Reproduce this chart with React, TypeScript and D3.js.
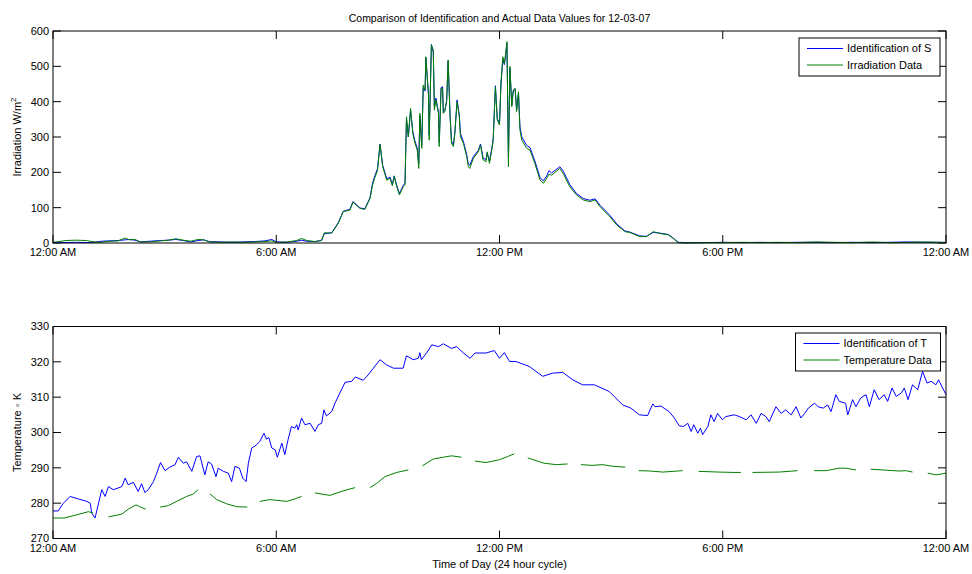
import React from "react";
import * as d3 from "d3";

// ---- Irradiance panel (W/m^2), sampled in hours after midnight ----
const irrHours = [
  0.0, 0.15, 0.35, 0.6, 0.9, 1.1, 1.3, 1.5, 1.75, 1.94, 2.05, 2.2, 2.35, 2.6, 2.9, 3.1, 3.3, 3.5, 3.7, 3.9,
  4.05, 4.2, 4.5, 4.8, 5.1, 5.4, 5.7, 5.88, 6.0, 6.3, 6.55, 6.68, 6.82, 7.04, 7.22, 7.29, 7.49, 7.67, 7.8, 7.98,
  8.06, 8.12, 8.25, 8.38, 8.52, 8.59, 8.65, 8.72, 8.79, 8.86, 8.97, 9.06, 9.12, 9.17, 9.24, 9.31, 9.41, 9.46, 9.5, 9.55,
  9.61, 9.67, 9.73, 9.79, 9.83, 9.86, 9.91, 9.95, 10.0, 10.02, 10.09, 10.11, 10.17, 10.22, 10.25, 10.29, 10.36, 10.38, 10.43, 10.47,
  10.49, 10.53, 10.58, 10.62, 10.67, 10.71, 10.76, 10.8, 10.86, 10.92, 10.95, 11.03, 11.12, 11.16, 11.2, 11.3, 11.43, 11.49, 11.56, 11.64,
  11.67, 11.73, 11.8, 11.83, 11.89, 11.94, 12.0, 12.04, 12.09, 12.13, 12.16, 12.2, 12.24, 12.28, 12.33, 12.37, 12.42, 12.46, 12.51, 12.55,
  12.6, 12.73, 12.82, 12.95, 13.09, 13.18, 13.27, 13.33, 13.4, 13.62, 13.71, 13.89, 14.07, 14.25, 14.43, 14.57, 14.7, 14.97, 15.15, 15.37,
  15.5, 15.77, 15.95, 16.13, 16.31, 16.54, 16.67, 16.8, 17.0, 17.5, 18.0, 18.5, 19.0, 19.5, 20.0, 20.5, 21.0, 21.5, 22.0, 22.5,
  23.0, 23.5, 24.0,
];

const irradiationData = [
  2, 4, 7, 8, 7, 3, 2, 5, 6, 14, 9, 10, 3, 3, 6, 8, 12, 8, 5, 10,
  9, 3, 2, 3, 2, 3, 4, 6, 2, 3, 7, 13, 7, 4, 7, 29, 28, 56, 89, 93,
  115, 110, 98, 95, 126, 165, 185, 205, 279, 216, 178, 183, 162, 188, 159, 136, 159, 165, 357, 301,
  381, 310, 282, 263, 211, 367, 268, 447, 433, 527, 424, 291, 560, 546, 376, 405, 367, 273, 438, 438,
  367, 372, 405, 518, 362, 282, 273, 310, 400, 357, 301, 282, 244, 216, 211, 240, 258, 277, 235, 230,
  258, 225, 268, 291, 442, 348, 334, 456, 527, 508, 532, 570, 216, 500, 386, 433, 438, 372, 428, 320,
  291, 268, 263, 225, 178, 169, 183, 195, 192, 211, 197, 159, 136, 122, 117, 122, 103, 74, 51, 32,
  30, 18, 18, 32, 27, 23, 13, 1, 0, 1, 1, 2, 1, 2, 1, 3, 2, 1, 3, 1,
  2, 3, 1,
];

const identificationS = [
  1, 2, 1, 2, 1, 2, 5, 6, 7, 9, 10, 8, 3, 5, 7, 8, 10, 7, 3, 7,
  9, 4, 3, 2, 3, 4, 6, 10, 3, 2, 5, 8, 5, 4, 8, 26, 29, 58, 90, 95,
  117, 112, 99, 97, 128, 170, 190, 210, 280, 220, 182, 186, 166, 190, 162, 140, 162, 170, 350, 300,
  375, 315, 288, 268, 225, 360, 275, 440, 430, 525, 420, 305, 562, 540, 385, 410, 370, 285, 440, 442,
  370, 375, 400, 515, 365, 288, 278, 312, 405, 362, 310, 287, 250, 224, 220, 245, 262, 280, 240, 236,
  255, 232, 272, 295, 445, 352, 340, 450, 520, 505, 525, 565, 240, 495, 390, 430, 435, 378, 425, 328,
  300, 276, 270, 232, 185, 176, 190, 205, 198, 216, 204, 165, 140, 126, 121, 125, 107, 78, 54, 34,
  31, 20, 19, 30, 28, 24, 14, 2, 1, 1, 2, 1, 2, 1, 2, 2, 1, 2, 1, 2,
  3, 2, 2,
];

// ---- Temperature panel (K): [hour, value]; null marks missing samples ----
const identificationT: [number, number][] = [
  [0, 277.8], [0.14, 277.8], [0.28, 280.0], [0.46, 281.9], [0.68, 281.2], [0.91, 280.5], [1.0, 280.0], [1.04, 277.2],
  [1.13, 275.8], [1.22, 279.8], [1.31, 283.8], [1.4, 281.9], [1.49, 284.7], [1.62, 283.8], [1.75, 284.3], [1.85, 284.7],
  [1.94, 287.1], [2.02, 285.2], [2.16, 285.9], [2.29, 283.3], [2.38, 285.5], [2.47, 283.0], [2.56, 283.8], [2.7, 286.1],
  [2.79, 288.5], [2.89, 291.5], [3.01, 289.2], [3.14, 290.2], [3.28, 290.9], [3.37, 293.0], [3.5, 291.3], [3.59, 291.7],
  [3.73, 289.0], [3.86, 293.2], [3.95, 293.4], [4.08, 288.0], [4.17, 291.7], [4.26, 291.1], [4.38, 287.5], [4.44, 289.9],
  [4.58, 289.0], [4.71, 288.5], [4.8, 286.1], [4.89, 290.4], [5.01, 289.9], [5.1, 287.1], [5.19, 286.1], [5.25, 291.3],
  [5.34, 295.6], [5.47, 296.5], [5.56, 297.5], [5.67, 299.8], [5.74, 298.1], [5.8, 298.6], [5.88, 295.6], [5.97, 295.1],
  [6.03, 293.0], [6.15, 297.0], [6.23, 293.7], [6.32, 298.1], [6.41, 301.7], [6.5, 301.2], [6.55, 302.2], [6.59, 300.7],
  [6.68, 304.1], [6.77, 302.2], [6.91, 302.6], [7.04, 300.3], [7.13, 302.2], [7.22, 302.6], [7.28, 306.4], [7.35, 304.7],
  [7.49, 305.9], [7.58, 308.3], [7.71, 311.2], [7.85, 314.2], [8.03, 314.5], [8.12, 315.7], [8.34, 314.8], [8.47, 316.3],
  [8.61, 318.2], [8.79, 320.6], [8.97, 319.1], [9.15, 318.2], [9.41, 318.2], [9.5, 321.7], [9.68, 320.6], [9.82, 321.0],
  [9.86, 322.6], [9.9, 320.6], [10.04, 322.5], [10.18, 324.8], [10.36, 324.3], [10.49, 325.1], [10.71, 323.8], [10.85, 324.3],
  [11.03, 322.5], [11.21, 321.0], [11.34, 322.5], [11.64, 322.5], [11.86, 323.2], [12.0, 321.0], [12.13, 322.6], [12.27, 320.1],
  [12.44, 320.1], [12.8, 318.7], [13.16, 315.9], [13.43, 316.8], [13.7, 317.0], [13.97, 314.9], [14.23, 313.5], [14.55, 313.5],
  [14.95, 311.6], [15.31, 307.8], [15.53, 306.9], [15.76, 305.0], [15.98, 304.8], [16.12, 308.1], [16.18, 307.3], [16.34, 307.5],
  [16.56, 305.9], [16.7, 304.1], [16.83, 301.9], [16.94, 301.7], [17.06, 302.6], [17.15, 300.3], [17.22, 302.2], [17.33, 299.8],
  [17.4, 301.2], [17.46, 299.4], [17.6, 301.7], [17.68, 305.0], [17.77, 303.1], [17.86, 305.4], [17.99, 303.6], [18.08, 304.5],
  [18.31, 305.0], [18.45, 304.5], [18.63, 303.6], [18.76, 305.0], [18.9, 302.6], [19.03, 305.4], [19.16, 304.5], [19.25, 303.1],
  [19.43, 307.3], [19.57, 305.4], [19.69, 306.4], [19.84, 305.0], [19.97, 307.3], [20.1, 304.1], [20.2, 305.4], [20.3, 306.9],
  [20.47, 308.3], [20.56, 307.3], [20.7, 306.9], [20.82, 307.8], [20.91, 305.9], [21.04, 310.7], [21.13, 308.8], [21.3, 308.3],
  [21.36, 305.0], [21.49, 309.3], [21.58, 307.3], [21.71, 309.8], [21.85, 310.7], [21.94, 307.3], [22.07, 312.1], [22.2, 309.3],
  [22.34, 310.7], [22.43, 308.8], [22.55, 312.6], [22.66, 310.2], [22.8, 311.2], [22.88, 312.6], [22.98, 309.3], [23.1, 313.5],
  [23.24, 312.1], [23.37, 317.3], [23.49, 314.0], [23.6, 314.5], [23.73, 313.5], [23.8, 314.9], [24, 310.7],
];

const temperatureData: ([number, number] | null)[] = [
  [0, 275.8], [0.3, 275.8], [0.64, 276.7], [0.95, 277.6], [1.08, 277.2], null,
  [1.49, 276.1], [1.85, 276.9], [2.02, 278.3], [2.23, 279.5], [2.33, 279.0], [2.49, 278.3], null,
  [2.88, 278.9], [3.1, 279.3], [3.32, 280.5], [3.59, 281.9], [3.77, 282.6], [3.9, 283.8], null,
  [4.22, 282.6], [4.4, 281.0], [4.67, 279.8], [4.94, 279.0], [5.22, 278.9], null,
  [5.56, 280.5], [5.83, 281.0], [6.28, 280.5], [6.5, 281.2], [6.68, 281.9], null,
  [7.04, 282.9], [7.44, 282.2], [7.8, 283.5], [8.12, 284.4], null,
  [8.52, 284.4], [8.7, 285.6], [8.92, 287.5], [9.24, 288.7], [9.55, 289.4], null,
  [9.93, 290.6], [10.22, 292.5], [10.49, 293.0], [10.71, 293.4], [10.98, 293.0], null,
  [11.34, 291.9], [11.64, 291.5], [12.0, 292.3], [12.22, 293.2], [12.4, 294.0], null,
  [12.76, 292.8], [13.2, 291.3], [13.53, 290.9], [13.83, 291.1], null,
  [14.19, 290.9], [14.49, 290.7], [14.76, 290.9], [15.08, 290.4], [15.38, 290.2], null,
  [15.74, 289.2], [16.05, 289.1], [16.39, 288.8], [16.92, 289.2], null,
  [17.35, 289.0], [17.9, 288.8], [18.3, 288.7], [18.49, 288.7], null,
  [18.8, 288.7], [19.52, 288.8], [20.01, 289.2], null,
  [20.46, 289.2], [20.78, 289.2], [21.13, 289.9], [21.31, 289.9], [21.58, 289.4], null,
  [21.98, 289.6], [22.3, 289.4], [22.74, 289.1], [22.92, 289.2], [23.1, 288.8], null,
  [23.51, 288.5], [23.73, 288.0], [24, 288.5],
];

const timeTicks = [0, 6, 12, 18, 24];
const timeTickLabels = ["12:00 AM", "6:00 AM", "12:00 PM", "6:00 PM", "12:00 AM"];
const irrTicks = [0, 100, 200, 300, 400, 500, 600];
const tempTicks = [270, 280, 290, 300, 310, 320, 330];

const W = 972;
const H = 574;
const left = 53;
const right = 946;
const FONT = "'Liberation Sans', Arial, Helvetica, sans-serif";
const BLUE = "#0000ff";
const GREEN = "#008000";

const x = d3.scaleLinear().domain([0, 24]).range([left, right]);
const yIrr = d3.scaleLinear().domain([0, 600]).range([243, 31]);
const yTemp = d3.scaleLinear().domain([270, 330]).range([538.5, 326.5]);

type Panel = {
  y: d3.ScaleLinear<number, number>;
  ticks: number[];
  top: number;
  bottom: number;
};

function Frame({ y, ticks, top, bottom }: Panel) {
  const tk = 8;
  return (
    <g>
      <rect x={left} y={top} width={right - left} height={bottom - top} fill="#fff" />
      {ticks.map((t) => (
        <g key={"y" + t}>
          <line x1={left} x2={left + tk} y1={y(t)} y2={y(t)} stroke="#000" strokeWidth={1} />
          <line x1={right} x2={right - tk} y1={y(t)} y2={y(t)} stroke="#000" strokeWidth={1} />
          <text x={left - 4} y={y(t)} dy="0.35em" textAnchor="end" fontSize={11} fontFamily={FONT} fill="#000">
            {t}
          </text>
        </g>
      ))}
      {timeTicks.map((t, i) => (
        <g key={"x" + t}>
          <line x1={x(t)} x2={x(t)} y1={bottom} y2={bottom - tk} stroke="#000" strokeWidth={1} />
          <line x1={x(t)} x2={x(t)} y1={top} y2={top + tk} stroke="#000" strokeWidth={1} />
          <text x={x(t)} y={bottom + 13} textAnchor="middle" fontSize={11} fontFamily={FONT} fill="#000">
            {timeTickLabels[i]}
          </text>
        </g>
      ))}
    </g>
  );
}

function Legend({ x0, y0, w, h, items }: { x0: number; y0: number; w: number; h: number; items: { label: string; color: string }[] }) {
  return (
    <g>
      <rect x={x0} y={y0} width={w} height={h} fill="#fff" stroke="#000" strokeWidth={1} />
      {items.map((it, i) => {
        const cy = y0 + 10.5 + i * 16.5;
        return (
          <g key={it.label}>
            <line x1={x0 + 8} x2={x0 + 44} y1={cy} y2={cy} stroke={it.color} strokeWidth={1} />
            <text x={x0 + 48} y={cy} dy="0.35em" fontSize={11} fontFamily={FONT} fill="#000">
              {it.label}
            </text>
          </g>
        );
      })}
    </g>
  );
}

export default function App() {
  const irrLine = d3
    .line<number>()
    .x((_, i) => x(irrHours[i]))
    .y((v) => yIrr(v));

  const tempLine = d3
    .line<[number, number] | null>()
    .defined((d) => d !== null)
    .x((d) => x((d as [number, number])[0]))
    .y((d) => yTemp((d as [number, number])[1]));

  const cx = (left + right) / 2;

  return (
    <svg width={W} height={H} style={{ position: "absolute", left: 0, top: 0, background: "#fff" }}>
      <rect x={0} y={0} width={W} height={H} fill="#fff" />
      <text x={cx} y={22} textAnchor="middle" fontSize={10.5} fontFamily={FONT} fill="#000">
        Comparison of Identification and Actual Data Values for 12-03-07
      </text>

      {/* irradiance panel */}
      <Frame y={yIrr} ticks={irrTicks} top={31} bottom={243} />
      <path d={irrLine(identificationS) ?? ""} fill="none" stroke={BLUE} strokeWidth={1} />
      <path d={irrLine(irradiationData) ?? ""} fill="none" stroke={GREEN} strokeWidth={1} />
      <rect x={left} y={31} width={right - left} height={212} fill="none" stroke="#000" strokeWidth={1} />
      <Legend
        x0={799}
        y0={38}
        w={141}
        h={38}
        items={[
          { label: "Identification of S", color: BLUE },
          { label: "Irradiation Data", color: GREEN },
        ]}
      />
      <text transform={`translate(21,${137}) rotate(-90)`} textAnchor="middle" fontSize={11} fontFamily={FONT} fill="#000">
        Irradiation W/m<tspan dy={-5} fontSize={8}>2</tspan>
      </text>

      {/* temperature panel */}
      <Frame y={yTemp} ticks={tempTicks} top={326.5} bottom={538.5} />
      <path d={tempLine(identificationT) ?? ""} fill="none" stroke={BLUE} strokeWidth={1} />
      <path d={tempLine(temperatureData) ?? ""} fill="none" stroke={GREEN} strokeWidth={1} />
      <rect x={left} y={326.5} width={right - left} height={212} fill="none" stroke="#000" strokeWidth={1} />
      <Legend
        x0={795.5}
        y0={333}
        w={145}
        h={38}
        items={[
          { label: "Identification of T", color: BLUE },
          { label: "Temperature Data", color: GREEN },
        ]}
      />
      <text transform={`translate(21,${432.5}) rotate(-90)`} textAnchor="middle" fontSize={11} fontFamily={FONT} fill="#000">
        Temperature {"\u25E6"} K
      </text>
      <text x={cx} y={568} textAnchor="middle" fontSize={11} fontFamily={FONT} fill="#000">
        Time of Day (24 hour cycle)
      </text>
    </svg>
  );
}
